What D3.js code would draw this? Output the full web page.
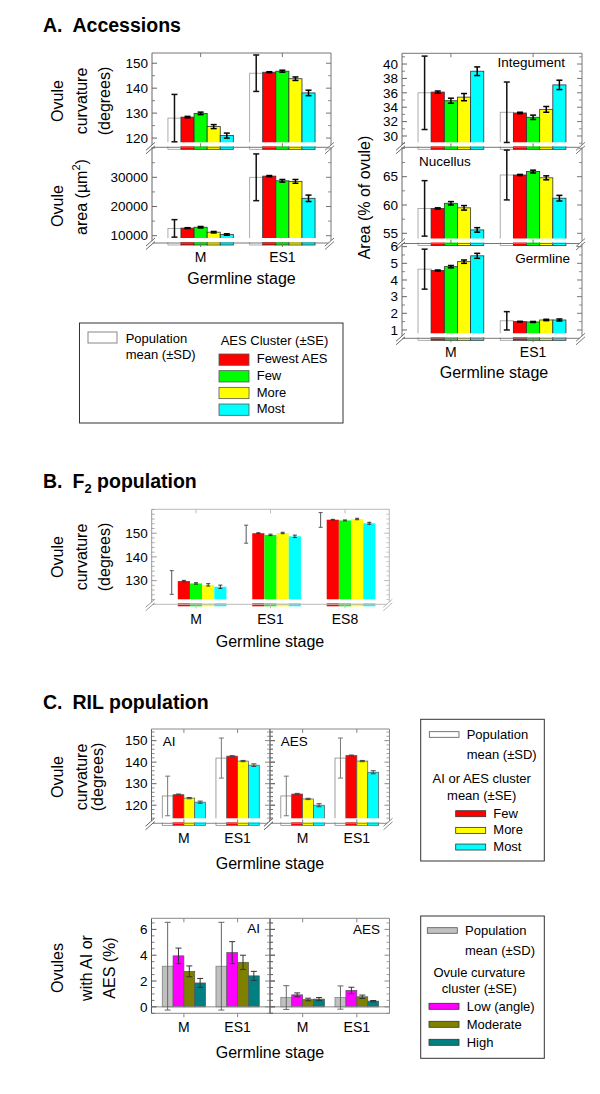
<!DOCTYPE html>
<html><head><meta charset="utf-8">
<script src="https://cdn.jsdelivr.net/npm/d3@7"></script>
<style>body{margin:0;background:#fff}</style>
</head><body>
<script>
// ---------------- DATA ----------------
// Panel A: Accessions
const stagesA = ["M", "ES1"];
const clustersA = ["Fewest AES", "Few", "More", "Most"];
const curvTicksA = [120, 130, 140, 150];
const accCurvPop = [128.0, 146.0];
const accCurvSD = [9.5, 7.3];
const accCurvMean = [[128.4, 129.9, 124.6, 121.0], [146.4, 146.8, 143.8, 138.1]];
const accCurvSE = [[0.3, 0.5, 0.8, 1.0], [0.2, 0.4, 0.7, 1.1]];

const areaTicksA = [10000, 20000, 30000];
const accAreaPop = [12500, 30000];
const accAreaSD = [3000, 8000];
const accAreaMean = [[12600, 12900, 11200, 10400], [30400, 28800, 28600, 22800]];
const accAreaSE = [[150, 250, 250, 250], [200, 450, 650, 1100]];

const integTicks = [30, 32, 34, 36, 38, 40];
const integPop = [36.0, 33.3];
const integSD = [5.1, 4.2];
const integMean = [[36.1, 34.9, 35.4, 39.0], [33.2, 32.6, 33.7, 37.1]];
const integSE = [[0.15, 0.35, 0.5, 0.6], [0.1, 0.3, 0.4, 0.65]];

const nucTicks = [55, 60, 65];
const nucPop = [59.4, 65.3];
const nucSD = [4.9, 4.4];
const nucMean = [[59.4, 60.3, 59.5, 55.6], [65.3, 65.9, 64.8, 61.2]];
const nucSE = [[0.1, 0.3, 0.4, 0.4], [0.1, 0.25, 0.35, 0.5]];

const germTicks = [1, 2, 3, 4, 5, 6];
const germPop = [4.65, 1.55];
const germSD = [1.2, 0.55];
const germMean = [[4.57, 4.8, 5.1, 5.45], [1.5, 1.48, 1.6, 1.6]];
const germSE = [[0.03, 0.07, 0.1, 0.15], [0.02, 0.03, 0.04, 0.06]];

// Panel B: F2 population
const stagesB = ["M", "ES1", "ES8"];
const curvTicksB = [130, 140, 150];
const f2Pop = [129.2, 149.6, 155.6];
const f2SD = [5.0, 3.8, 3.1];
const f2Mean = [[129.8, 128.8, 128.2, 127.4], [150.0, 149.3, 150.1, 148.7], [155.7, 155.4, 156.0, 154.2]];
const f2SE = [[0.3, 0.3, 0.5, 0.7], [0.2, 0.3, 0.3, 0.5], [0.15, 0.2, 0.3, 0.4]];

// Panel C: RIL population
const stagesC = ["M", "ES1"];
const clustersC = ["Few", "More", "Most"];
const curvTicksC = [120, 130, 140, 150];
const rilPop = [124.3, 141.9];
const rilSD = [9.2, 9.3];
const aiCurvMean = [[124.9, 123.3, 121.4], [142.8, 140.5, 138.6]];
const aiCurvSE = [[0.3, 0.3, 0.5], [0.2, 0.3, 0.6]];
const aesCurvMean = [[125.2, 122.9, 120.0], [143.1, 140.5, 135.3]];
const aesCurvSE = [[0.3, 0.3, 0.7], [0.2, 0.3, 0.7]];

const curvClusters = ["Low (angle)", "Moderate", "High"];
const pctTicks = [0, 2, 4, 6];
const aiPctPop = [3.15, 3.15];
const aiPctSD = [3.4, 3.4];
const aiPctMean = [[3.95, 2.75, 1.85], [4.2, 3.45, 2.4]];
const aiPctSE = [[0.6, 0.42, 0.35], [0.85, 0.55, 0.35]];
const aesPctPop = [0.72, 0.72];
const aesPctSD = [0.92, 0.9];
const aesPctMean = [[0.93, 0.57, 0.6], [1.27, 0.78, 0.44]];
const aesPctSE = [[0.15, 0.1, 0.12], [0.25, 0.13, 0.05]];

// ---------------- STYLES ----------------
const colorsA = ["#ff0000", "#00ff00", "#ffff00", "#00ffff"];
const colorsC = ["#ff0000", "#ffff00", "#00ffff"];
const colorsCurv = ["#ff00ff", "#808000", "#008080"];
const FONT = "'Liberation Sans', Arial, Helvetica, sans-serif";

const svg = d3.select("body").append("svg").attr("width", 600).attr("height", 1094);
svg.append("rect").attr("width", 600).attr("height", 1094).attr("fill", "#fff");

function txt(x, y, s, o = {}) {
  const t = svg.append("text").attr("x", x).attr("y", y).text(s)
    .attr("font-family", FONT).attr("font-size", o.size || 14).attr("fill", o.fill || "#000")
    .attr("text-anchor", o.anchor || "start");
  if (o.weight) t.attr("font-weight", o.weight);
  return t;
}
function vtxt(bx, cy, s, size) {
  return svg.append("text").attr("transform", `translate(${bx},${cy}) rotate(-90)`)
    .attr("text-anchor", "middle").attr("font-family", FONT).attr("font-size", size || 16).text(s);
}
function line(g, x1, y1, x2, y2, c, w) {
  g.append("line").attr("x1", x1).attr("y1", y1).attr("x2", x2).attr("y2", y2)
    .attr("stroke", c).attr("stroke-width", w || 1);
}
function breakMark(g, x, y, c) {
  g.append("path").attr("d", `M${x-6},${y+3} L${x+2},${y-4} L${x+2},${y-1} L${x-6},${y+6} Z`).attr("fill", "#fff");
  line(g, x - 6, y + 3, x + 3, y - 5, c, 1);
  line(g, x - 6, y + 6.5, x + 3, y - 1.5, c, 1);
}

function subpanel(cfg) {
  const g = svg.append("g");
  const st = cfg.style;
  const y = d3.scaleLinear().domain(cfg.domain).range([cfg.yBot, cfg.yTop]);
  const xs = d3.scaleBand().domain(cfg.stages).range([cfg.x0, cfg.x1])
    .paddingInner(cfg.pi).paddingOuter(cfg.po);
  const n = cfg.means[0].length + 1;
  const xi = d3.scaleBand().domain(d3.range(n)).range([0, xs.bandwidth()]);
  const hasBase = cfg.base !== undefined;
  const base = hasBase ? y(cfg.base) : cfg.yBot + 2;

  // bars
  cfg.stages.forEach((s, i) => {
    const vals = [cfg.pop[i]].concat(cfg.means[i]);
    vals.forEach((v, j) => {
      const yv = y(v);
      g.append("rect").attr("x", xs(s) + xi(j)).attr("y", Math.min(yv, base))
        .attr("width", xi.bandwidth()).attr("height", Math.abs(base - yv))
        .attr("fill", j === 0 ? st.popFill : cfg.colors[j - 1])
        .attr("stroke", j === 0 ? st.popStroke : st.barStroke)
        .attr("stroke-width", st.barSW);
    });
  });
  if (!hasBase) {
    g.append("rect").attr("x", cfg.x0 + 0.5).attr("y", cfg.yBot - 5)
      .attr("width", cfg.x1 - cfg.x0 - 1).attr("height", 4).attr("fill", "#fff");
  }
  // frame
  line(g, cfg.x0, cfg.yTop, cfg.x0, cfg.yBot, st.axis, 1);
  line(g, cfg.x1, cfg.yTop, cfg.x1, cfg.yBot, st.frame, 1);
  if (cfg.top) line(g, cfg.x0, cfg.yTop, cfg.x1, cfg.yTop, st.frame, 1);
  line(g, cfg.x0, cfg.yBot, cfg.x1, cfg.yBot, st.frame, 1);
  if (cfg.zeroLine) line(g, cfg.x0, y(0), cfg.x1, y(0), st.frame, 1);

  // y ticks
  const [lo, hi] = cfg.domain;
  if (cfg.minor) {
    d3.range(Math.ceil(lo / cfg.minor) * cfg.minor, hi, cfg.minor).forEach(t => {
      if (cfg.ticks.includes(+t.toFixed(6))) return;
      line(g, cfg.x0, y(t), cfg.x0 + 3, y(t), st.axis, 0.8);
      line(g, cfg.x1, y(t), cfg.x1 - 3, y(t), st.frame, 0.8);
      if (cfg.outTicksRight) line(g, cfg.x1, y(t), cfg.x1 + 3, y(t), st.frame, 0.8);
    });
  }
  cfg.ticks.forEach(t => {
    line(g, cfg.x0, y(t), cfg.x0 + 5, y(t), st.axis, 1);
    line(g, cfg.x1, y(t), cfg.x1 - 5, y(t), st.frame, 1);
    if (cfg.outTicksRight) line(g, cfg.x1, y(t), cfg.x1 + 5, y(t), st.frame, 1);
    if (cfg.labels) txt(cfg.x0 - 4, y(t) + 4.7, cfg.fmt ? cfg.fmt(t) : t, { size: 13.5, anchor: "end" });
  });
  // x ticks at group centers
  cfg.stages.forEach(s => {
    const cx = xs(s) + xs.bandwidth() / 2;
    line(g, cx, cfg.yBot, cx, cfg.yBot + (cfg.xTickDown ? 4 : -4), st.frame, 1);
    if (cfg.top) line(g, cx, cfg.yTop, cx, cfg.yTop + 4, st.frame, 1);
  });

  // error bars
  cfg.stages.forEach((s, i) => {
    const vals = [cfg.pop[i]].concat(cfg.means[i]);
    const errs = [cfg.sd[i]].concat(cfg.se[i]);
    vals.forEach((v, j) => {
      const cx = xs(s) + xi(j) + xi.bandwidth() / 2;
      let ya = y(v + errs[j]), yb = y(v - errs[j]);
      const c = j === 0 ? st.sdColor : st.errColor;
      const w = j === 0 ? st.sdW : st.errW;
      const topClip = ya < cfg.yTop + 1;
      ya = Math.max(ya, cfg.yTop + 1);
      yb = Math.min(yb, cfg.yBot);
      line(g, cx, ya, cx, yb, c, w);
      const cw = st.cap / 2;
      if (!topClip) line(g, cx - cw, ya, cx + cw, ya, c, w);
      line(g, cx - cw, yb, cx + cw, yb, c, w);
    });
  });
  if (cfg.breaks) {
    breakMark(g, cfg.x0, cfg.yBot, st.axis);
    breakMark(g, cfg.x1, cfg.yBot, st.frame);
  }
  return { y, xs };
}

const styleA = { popFill: "#fff", popStroke: "#999", barStroke: "#333", barSW: 0.8,
  axis: "#666", frame: "#777", sdColor: "#111", sdW: 1.5, errColor: "#000", errW: 1.5, cap: 6 };
const styleB = { popFill: "#fff", popStroke: "#ccc", barStroke: "none", barSW: 0,
  axis: "#999", frame: "#bbb", sdColor: "#555", sdW: 1, errColor: "#333", errW: 1, cap: 4 };
const styleC = { popFill: "#fff", popStroke: "#777", barStroke: "#555", barSW: 0.7,
  axis: "#666", frame: "#888", sdColor: "#777", sdW: 1, errColor: "#444", errW: 1, cap: 5 };
const styleC2 = { popFill: "#c0c0c0", popStroke: "#777", barStroke: "#555", barSW: 0.7,
  axis: "#555", frame: "#888", sdColor: "#666", sdW: 1, errColor: "#333", errW: 1, cap: 6 };

const fmtK = d3.format("d");

// ---------------- PANEL A ----------------
txt(43, 32, "A.", { size: 19.5, weight: "bold" });
txt(72.5, 32, "Accessions", { size: 19.5, weight: "bold" });

const aL = { stages: stagesA, x0: 152, x1: 331, pi: 0.2, po: 0.195, colors: colorsA, style: styleA, breaks: true };
const aCurv = subpanel(Object.assign({}, aL, { yTop: 53, yBot: 147.3, domain: [116.3, 154.1], ticks: curvTicksA, minor: 5,
  pop: accCurvPop, sd: accCurvSD, means: accCurvMean, se: accCurvSE, labels: true, top: true }));
const aArea = subpanel(Object.assign({}, aL, { yTop: 147.3, yBot: 243, domain: [7500, 40270], ticks: areaTicksA, minor: 5000,
  pop: accAreaPop, sd: accAreaSD, means: accAreaMean, se: accAreaSE, labels: true, fmt: fmtK, xTickDown: true }));
stagesA.forEach(s => txt(aArea.xs(s) + aArea.xs.bandwidth() / 2, 262, s, { size: 14, anchor: "middle" }));
txt(241.5, 284, "Germline stage", { size: 16, anchor: "middle" });
vtxt(63, 101, "Ovule"); vtxt(87, 101, "curvature"); vtxt(110, 101, "(degrees)");
vtxt(63, 206, "Ovule");
const areaLbl = vtxt(87, 197, "area (µm");
areaLbl.append("tspan").attr("font-size", 11).attr("dy", -7).text("2");
areaLbl.append("tspan").attr("dy", 7).text(")");

const aR = { stages: stagesA, x0: 402, x1: 582, pi: 0.2, po: 0.195, colors: colorsA, style: styleA, breaks: true };
subpanel(Object.assign({}, aR, { yTop: 53.3, yBot: 147.3, domain: [28.43, 41.49], ticks: integTicks, minor: 1,
  pop: integPop, sd: integSD, means: integMean, se: integSE, labels: true, top: true }));
subpanel(Object.assign({}, aR, { yTop: 147.3, yBot: 243.5, domain: [53.2, 70.19], ticks: nucTicks, minor: 2.5,
  pop: nucPop, sd: nucSD, means: nucMean, se: nucSE, labels: true }));
const aGerm = subpanel(Object.assign({}, aR, { yTop: 243.5, yBot: 338.3, domain: [0.5, 6.19], ticks: germTicks, minor: 0.5,
  pop: germPop, sd: germSD, means: germMean, se: germSE, labels: true, xTickDown: true }));
txt(565, 67, "Integument", { size: 13.5, anchor: "end" });
txt(419, 166, "Nucellus", { size: 13.5 });
txt(570, 263, "Germline", { size: 13.5, anchor: "end" });
stagesA.forEach(s => txt(aGerm.xs(s) + aGerm.xs.bandwidth() / 2, 357, s, { size: 14, anchor: "middle" }));
txt(494, 378, "Germline stage", { size: 16, anchor: "middle" });
vtxt(370, 197.5, "Area (% of ovule)");

// Legend A
svg.append("rect").attr("x", 79.5).attr("y", 323).attr("width", 263.5).attr("height", 100)
  .attr("fill", "none").attr("stroke", "#333").attr("stroke-width", 1);
svg.append("rect").attr("x", 88).attr("y", 332).attr("width", 29).attr("height", 11)
  .attr("fill", "#fff").attr("stroke", "#888");
txt(125.7, 342.7, "Population", { size: 13 });
txt(125.7, 359.3, "mean (±SD)", { size: 13 });
txt(220.7, 345, "AES Cluster (±SE)", { size: 13 });
clustersA.forEach((c, i) => {
  svg.append("rect").attr("x", 219).attr("y", 354 + i * 16.67).attr("width", 30).attr("height", 11.3)
    .attr("fill", colorsA[i]).attr("stroke", "#555").attr("stroke-width", 0.8);
  txt(256.7, 363.3 + i * 16.67, c, { size: 13 });
});

// ---------------- PANEL B ----------------
txt(43, 488, "B.", { size: 19.5, weight: "bold" });
const bt = txt(72.5, 488, "F", { size: 19.5, weight: "bold" });
bt.append("tspan").attr("font-size", 13).attr("dy", 5).text("2");
bt.append("tspan").attr("dy", -5).text(" population");
const pB = subpanel({ stages: stagesB, x0: 151.7, x1: 389.3, pi: 0.183, po: 0.187, colors: colorsA, style: styleB,
  breaks: true, yTop: 509.3, yBot: 604.3, domain: [120, 160.1], ticks: curvTicksB, minor: 2,
  pop: f2Pop, sd: f2SD, means: f2Mean, se: f2SE, labels: true, top: true, xTickDown: true });
stagesB.forEach(s => txt(pB.xs(s) + pB.xs.bandwidth() / 2, 623.5, s, { size: 14, anchor: "middle" }));
txt(270, 647, "Germline stage", { size: 16, anchor: "middle" });
vtxt(63, 557, "Ovule"); vtxt(87, 557, "curvature"); vtxt(110, 557, "(degrees)");

// ---------------- PANEL C ----------------
txt(43, 709, "C.", { size: 19.5, weight: "bold" });
txt(72.5, 709, "RIL population", { size: 19.5, weight: "bold" });

const cAI = subpanel({ stages: stagesC, x0: 151.5, x1: 270, pi: 0.194, po: 0.2, colors: colorsC, style: styleC,
  yTop: 729, yBot: 823.3, domain: [111.6, 155.4], ticks: curvTicksC, minor: 2,
  pop: rilPop, sd: rilSD, means: aiCurvMean, se: aiCurvSE, labels: true, top: true, breaks: true, outTicksRight: true });
const cAES = subpanel({ stages: stagesC, x0: 270, x1: 389.5, pi: 0.194, po: 0.2, colors: colorsC, style: styleC,
  yTop: 729, yBot: 823.3, domain: [111.6, 155.4], ticks: curvTicksC, minor: 2,
  pop: rilPop, sd: rilSD, means: aesCurvMean, se: aesCurvSE, labels: false, top: true, breaks: true });
[cAI, cAES].forEach(p => stagesC.forEach(s => txt(p.xs(s) + p.xs.bandwidth() / 2, 842.5, s, { size: 14, anchor: "middle" })));
txt(162.7, 746, "AI", { size: 13.5 });
txt(280.7, 746, "AES", { size: 13.5 });
txt(270, 869, "Germline stage", { size: 16, anchor: "middle" });
vtxt(63, 777, "Ovule"); vtxt(87, 777, "curvature"); vtxt(103, 777, "(degrees)");

// Legend C1
svg.append("rect").attr("x", 420.7).attr("y", 719.3).attr("width", 123.6).attr("height", 141.7)
  .attr("fill", "none").attr("stroke", "#333");
svg.append("rect").attr("x", 429.3).attr("y", 731.7).attr("width", 29.7).attr("height", 5.6)
  .attr("fill", "#fff").attr("stroke", "#555").attr("stroke-width", 0.8);
txt(466.7, 739.3, "Population", { size: 13 });
txt(466.7, 759.3, "mean (±SD)", { size: 13 });
txt(481.7, 783.3, "AI or AES cluster", { size: 13, anchor: "middle" });
txt(481.7, 800, "mean (±SE)", { size: 13, anchor: "middle" });
clustersC.forEach((c, i) => {
  svg.append("rect").attr("x", 455.7).attr("y", 810.7 + i * 16.67).attr("width", 30).attr("height", 6)
    .attr("fill", colorsC[i]).attr("stroke", "#333").attr("stroke-width", 0.8);
  txt(493.3, 817.7 + i * 16.67, c, { size: 13 });
});

const cAI2 = subpanel({ stages: stagesC, x0: 151.5, x1: 270, pi: 0.194, po: 0.2, colors: colorsCurv, style: styleC2,
  yTop: 918.3, yBot: 1013.3, domain: [-0.5, 6.86], ticks: pctTicks, minor: 0.5, base: 0, zeroLine: true,
  pop: aiPctPop, sd: aiPctSD, means: aiPctMean, se: aiPctSE, labels: true, top: true, outTicksRight: true, xTickDown: true });
const cAES2 = subpanel({ stages: stagesC, x0: 270, x1: 389.5, pi: 0.194, po: 0.2, colors: colorsCurv, style: styleC2,
  yTop: 918.3, yBot: 1013.3, domain: [-0.5, 6.86], ticks: pctTicks, minor: 0.5, base: 0, zeroLine: true,
  pop: aesPctPop, sd: aesPctSD, means: aesPctMean, se: aesPctSE, labels: false, top: true, xTickDown: true });
[cAI2, cAES2].forEach(p => stagesC.forEach(s => txt(p.xs(s) + p.xs.bandwidth() / 2, 1032, s, { size: 14, anchor: "middle" })));
txt(260, 933.3, "AI", { size: 13.5, anchor: "end" });
txt(380, 934.3, "AES", { size: 13.5, anchor: "end" });
txt(270, 1058, "Germline stage", { size: 16, anchor: "middle" });
vtxt(63, 968, "Ovules"); vtxt(91.5, 968, "with AI or"); vtxt(115, 968, "AES (%)");

// Legend C2
svg.append("rect").attr("x", 420.7).attr("y", 916).attr("width", 123.6).attr("height", 142.3)
  .attr("fill", "none").attr("stroke", "#333");
svg.append("rect").attr("x", 427.3).attr("y", 927.7).attr("width", 30).attr("height", 5.6)
  .attr("fill", "#c0c0c0").attr("stroke", "#555").attr("stroke-width", 0.8);
txt(465, 935, "Population", { size: 13 });
txt(465, 955, "mean (±SD)", { size: 13 });
txt(479.3, 976.7, "Ovule curvature", { size: 13, anchor: "middle" });
txt(479.3, 992.7, "cluster (±SE)", { size: 13, anchor: "middle" });
curvClusters.forEach((c, i) => {
  svg.append("rect").attr("x", 429).attr("y", 1003.3 + i * 18).attr("width", 30).attr("height", 6)
    .attr("fill", colorsCurv[i]).attr("stroke", "#333").attr("stroke-width", 0.8);
  txt(466.7, 1010.7 + i * 18, c, { size: 13 });
});
</script></body></html>
